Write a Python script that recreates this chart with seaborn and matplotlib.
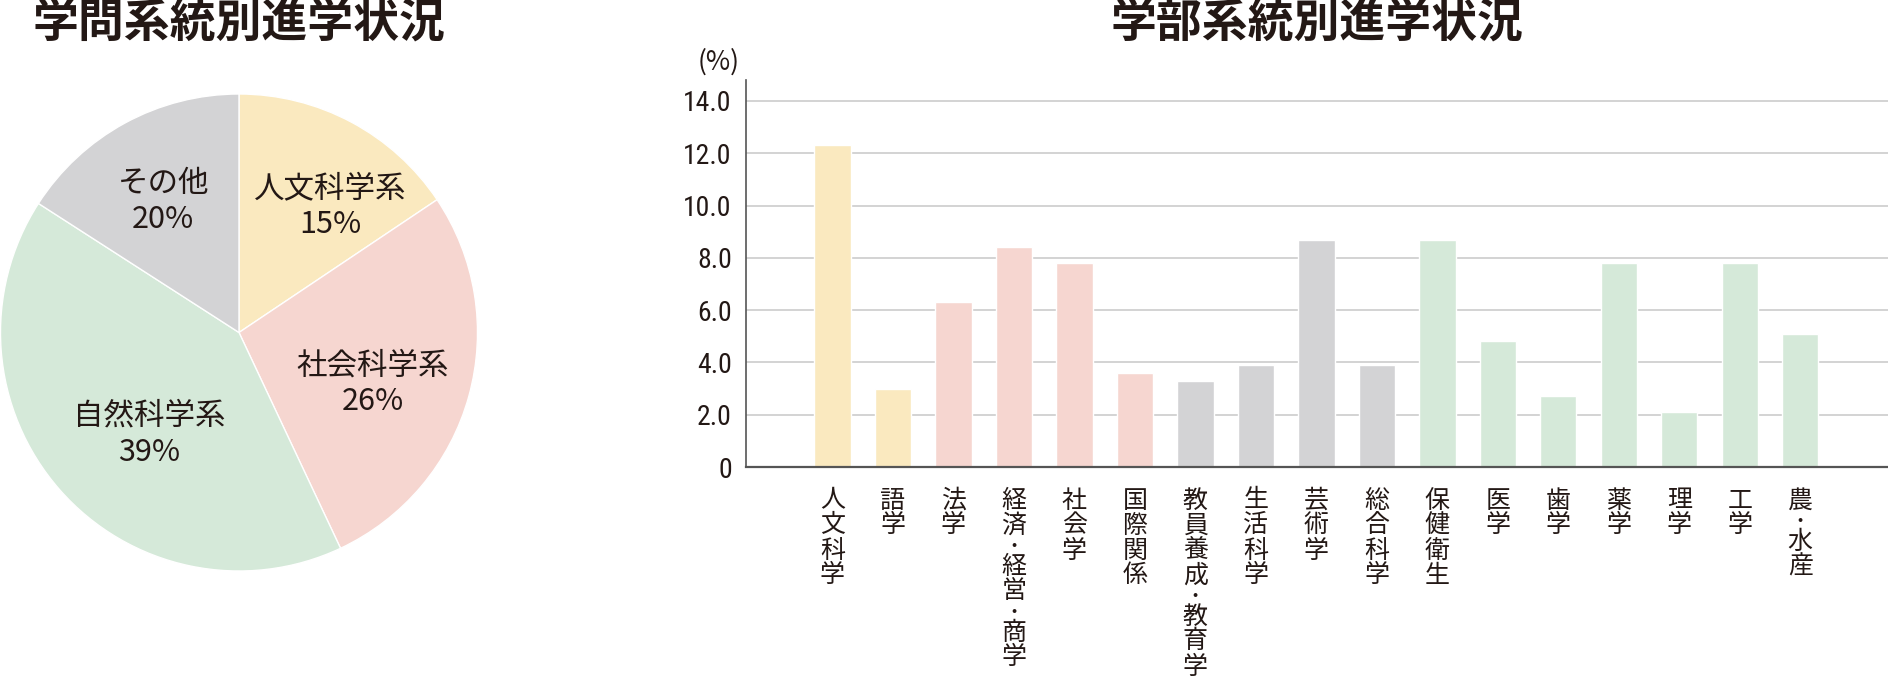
import matplotlib
matplotlib.use("Agg")
import matplotlib.pyplot as plt
from matplotlib import font_manager as fm
from matplotlib.transforms import offset_copy
import numpy as np
import pandas as pd
import seaborn as sns

# ---------------- data ----------------
pie_title = "学問系統別進学状況"
bar_title = "学部系統別進学状況"

pie_groups = ["人文科学系", "社会科学系", "自然科学系", "その他"]
pie_labels_pct = [15, 26, 39, 20]            # printed percentages
pie_drawn_share = [15.6, 27.4, 41.1, 15.9]   # wedge sizes as drawn in the picture

faculties = ["人文科学", "語学", "法学", "経済・経営・商学", "社会学", "国際関係",
             "教員養成・教育学", "生活科学", "芸術学", "総合科学", "保健衛生",
             "医学", "歯学", "薬学", "理学", "工学", "農・水産"]
faculty_values = [12.3, 3.0, 6.3, 8.4, 7.8, 3.6, 3.3, 3.9, 8.7, 3.9, 8.7,
                  4.8, 2.7, 7.8, 2.1, 7.8, 5.1]
faculty_groups = ["人文科学系"] * 2 + ["社会科学系"] * 4 + ["その他"] * 4 + ["自然科学系"] * 7

y_ticks = [0, 2, 4, 6, 8, 10, 12, 14]
y_tick_labels = ["0", "2.0", "4.0", "6.0", "8.0", "10.0", "12.0", "14.0"]
y_unit = "(%)"

group_colors = {"人文科学系": "#FAE9BF", "社会科学系": "#F6D6D0",
                "自然科学系": "#D5E9D9", "その他": "#D3D3D5"}

# label placement inside the pie (angle in degrees, fraction of radius)
pie_label_polar = [(54, 0.65), (-21, 0.60), (228.5, 0.57), (120, 0.635)]

# ---------------- style ----------------
sns.set_theme(style="white")
avail = {f.name for f in fm.fontManager.ttflist}
def pick(cands, default):
    for c in cands:
        if c in avail:
            return c
    return default
JP = pick(["Noto Sans CJK JP", "Noto Sans CJK SC"], "DejaVu Sans")
NUM = pick(["Roboto Condensed", "Liberation Sans Narrow", "Roboto"], "DejaVu Sans")
plt.rcParams["font.family"] = [JP, "DejaVu Sans"]
TXT = "#231815"

W, H = 1888, 686
fig = plt.figure(figsize=(W / 100, H / 100), dpi=100)
fig.patch.set_facecolor("white")
PT = 72 / 100  # points per pixel

# ---------------- pie ----------------
cx, cy, r = 239, 332.5, 238.5
axp = fig.add_axes([(cx - r) / W, 1 - (cy + r) / H, 2 * r / W, 2 * r / H])
wedges, _ = axp.pie(pie_drawn_share,
                    colors=[group_colors[g] for g in pie_groups],
                    startangle=90, counterclock=False,
                    wedgeprops=dict(edgecolor="white", linewidth=1.0))
for w in wedges:
    w.set_clip_on(False)
axp.set_xlim(-1, 1)
axp.set_ylim(-1, 1)
axp.set_aspect("auto")
axp.axis("off")
for (ang, rad), g, p in zip(pie_label_polar, pie_groups, pie_labels_pct):
    th = np.deg2rad(ang)
    axp.text(rad * np.cos(th), rad * np.sin(th), f"{g}\n{p}%",
             ha="center", va="center", fontsize=22, color=TXT,
             linespacing=1.2, family=[JP, "DejaVu Sans"])

fig.text(cx / W, 1 - 24 / H, pie_title, ha="center", va="center",
         fontsize=33, fontweight="bold", color=TXT, family=[JP, "DejaVu Sans"])

# ---------------- bars ----------------
x0, y0, ytop = 745.7, 467, 80
axb = fig.add_axes([x0 / W, 1 - y0 / H, (W - x0) / W, (y0 - ytop) / H])
df = pd.DataFrame({"faculty": faculties, "value": faculty_values, "group": faculty_groups})
sns.barplot(data=df, x="faculty", y="value", hue="group", order=faculties,
            palette=group_colors, dodge=False, width=0.6, saturation=1,
            legend=False, ax=axb, zorder=3)
axb.set_xlim(-1.435, 17.45)
axb.set_ylim(0, 14.8)
axb.set_xlabel("")
axb.set_ylabel("")
axb.set_yticks(y_ticks)
axb.set_yticklabels(y_tick_labels, family=NUM, fontsize=20, color=TXT)
axb.set_xticks(range(len(faculties)))
axb.set_xticklabels([])
axb.tick_params(axis="both", length=0)
axb.tick_params(axis="y", pad=10)
for yv in y_ticks[1:]:
    axb.axhline(yv, color="#cccccc", linewidth=1.2, zorder=1)
for s in ["top", "right"]:
    axb.spines[s].set_visible(False)
axb.spines["left"].set_color("#555555")
axb.spines["left"].set_linewidth(1.2)
axb.spines["bottom"].set_color("#555555")
axb.spines["bottom"].set_linewidth(1.6)
axb.spines["bottom"].set_zorder(4)
axb.patch.set_alpha(0)

# vertical (tategaki) category labels, one character per cell
char_pitch, dot_pitch, top_gap = 25.0, 16.0, 21.0   # pixels
xt = axb.get_xaxis_transform()
for i, name in enumerate(faculties):
    pos = top_gap
    for ch in name:
        is_dot = ch == "・"
        step = dot_pitch if is_dot else char_pitch
        centre = pos + step / 2
        tr = offset_copy(xt, fig=fig, x=0, y=-centre * PT, units="points")
        axb.text(i, 0, ch, transform=tr, ha="center", va="center",
                 fontsize=11 if is_dot else 18,
                 fontweight="bold" if is_dot else "normal",
                 color=TXT, family=[JP, "DejaVu Sans"], clip_on=False)
        pos += step

fig.text(719 / W, 1 - 62 / H, y_unit, ha="center", va="center",
         fontsize=19, color=TXT, family=[JP, "DejaVu Sans"])
fig.text(1317 / W, 1 - 24 / H, bar_title, ha="center", va="center",
         fontsize=33, fontweight="bold", color=TXT, family=[JP, "DejaVu Sans"])

fig.savefig("out.png", dpi=100, facecolor="white")
